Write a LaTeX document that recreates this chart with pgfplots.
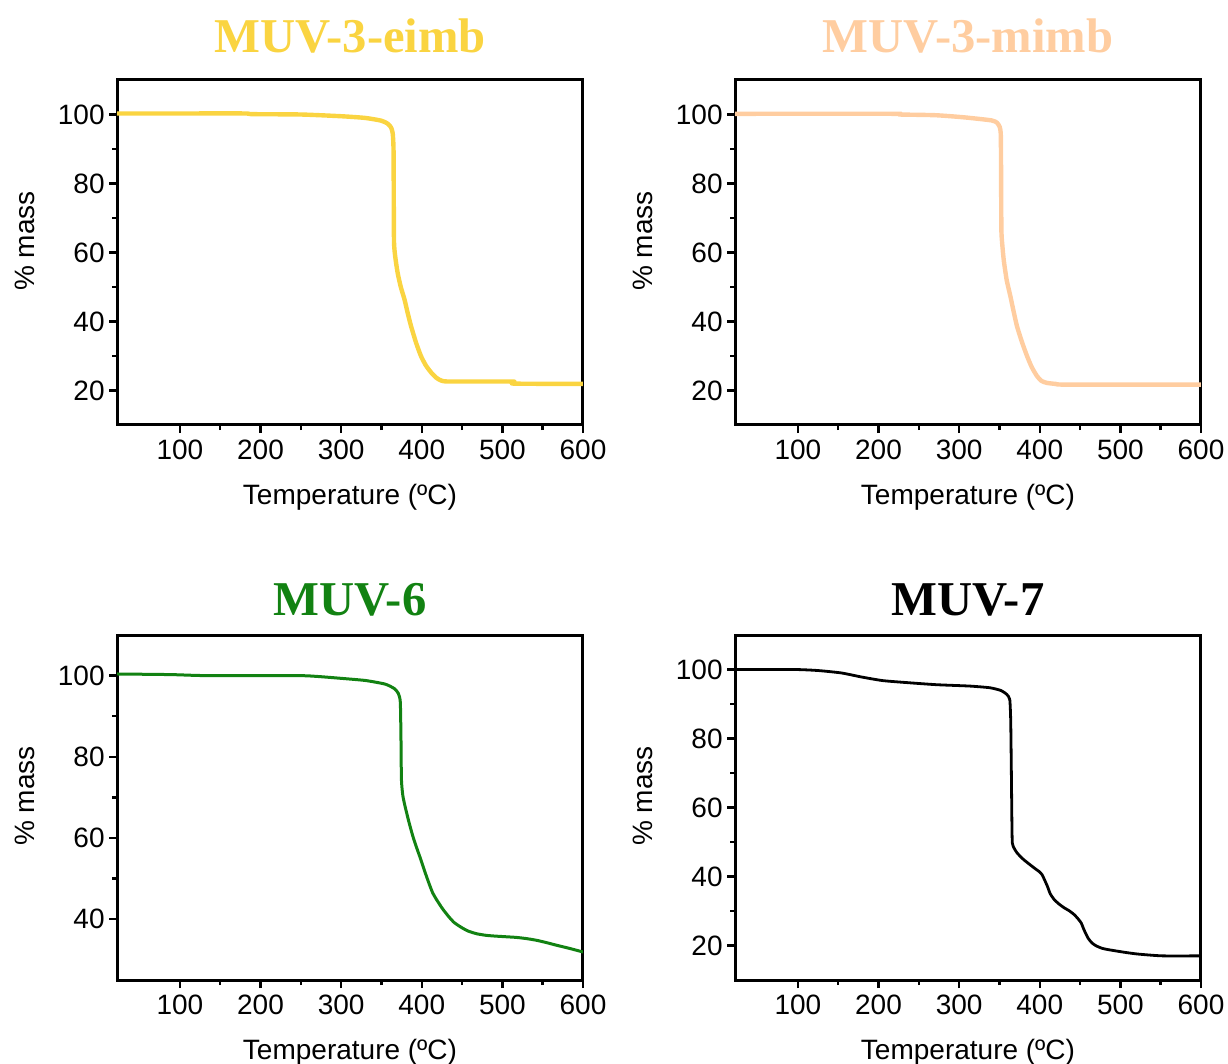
\documentclass[border=0pt]{standalone}
\usepackage{pgfplots}
\pgfplotsset{compat=1.18}
\usepackage{fontspec}
\setmainfont{Liberation Sans}
\newfontfamily\titlefont{Liberation Serif}
\definecolor{cgold}{RGB}{250,212,65}
\definecolor{cpeach}{RGB}{255,205,160}
\definecolor{cgreen}{RGB}{18,130,18}
\pgfplotsset{tga/.style={
  scale only axis, width=233pt, height=172.5pt,
  xmin=22, xmax=600, xtick={100,200,...,600}, minor tick num=1,
  tick align=outside, xtick pos=left, ytick pos=left,
  major tick length=4pt, minor tick length=2.5pt,
  every tick/.style={black, line width=1.2pt},
  axis line style={line width=1.5pt},
  tick label style={font=\fontsize{14}{16}\selectfont, inner sep=2pt},
  xticklabel style={yshift=-1.5pt},
  label style={font=\fontsize{14}{16}\selectfont},
  /pgf/number format/assume math mode=true,
  xlabel={Temperature (ºC)}, ylabel={\% mass},
  xlabel style={at={(axis description cs:0.5,-0.21)}, anchor=center},
  ylabel style={at={(axis description cs:-0.197,0.533)}, anchor=center},
  title style={font=\titlefont\bfseries\fontsize{24.3}{27}\selectfont, at={(axis description cs:0.5,1)}, anchor=base},
  every axis plot/.append style={smooth, tension=0.35, line join=round, line cap=round},
}}
\begin{document}
\begin{tikzpicture}
\begin{axis}[tga, at={(58.5pt,-212.5pt)}, anchor=south west,
  ymin=10, ymax=110, ytick={20,40,...,100},
  title={\color{cgold}MUV-3-eimb}, title style={yshift=7.5pt}]
\addplot[cgold, line width=2.2pt] coordinates {
(22,100.3) (100,100.3) (180,100.3) (190,100.1) (250,100.0) (300,99.5) (330,99.0)
(350,98.2) (358,97.3) (362,96.2) (364,94.5) (365,90) (365.3,75) (365.6,63) (367,59)
(370,54.2) (374,50) (378.6,46.4) (382.5,42.5) (386.8,38.6) (393,33.8) (399,30) (405,27.3)
(411.7,25.2) (418,23.7) (424,22.9) (434,22.6) (513,22.6) (514,22.0) (600,21.9)};
\end{axis}
\begin{axis}[tga, at={(367.5pt,-212.5pt)}, anchor=south west,
  ymin=10, ymax=110, ytick={20,40,...,100},
  title={\color{cpeach}MUV-3-mimb}, title style={yshift=7.5pt}]
\addplot[cpeach, line width=2.2pt] coordinates {
(22,100.2) (220,100.2) (225,100.0) (270,99.8) (305,99.2) (340,98.3) (347,97.6)
(350.5,96.3) (351.7,94) (352,85) (352.2,75) (352.5,65.7) (354,61) (355.5,57.5) (359,52) (363.6,47.3)
(367.5,43) (371.8,38.6) (378,34) (384.2,30) (390,26.8) (396.5,24.2) (402,22.8) (408.8,22.2)
(420,21.9) (433.5,21.7) (600,21.7)};
\end{axis}
\begin{axis}[tga, at={(58.5pt,-490pt)}, anchor=south west,
  ymin=25, ymax=110, ytick={40,60,80,100},
  title={\color{cgreen}MUV-6}, title style={yshift=4pt}]
\addplot[cgreen, line width=1.5pt] coordinates {
(22,100.4) (89,100.25) (133,100) (246,100) (270,99.8) (295.6,99.4) (330,98.8)
(354.7,97.9) (366,96.8) (371,95.6) (373.4,93.5) (374.2,85) (374.8,74.4) (376.5,70.5) (379.3,67.8)
(384,64) (389,60.4) (394,57.4) (399,54.6) (404,51.6) (409,48.8) (413.5,46.5) (418.7,44.7) (426,42.5) (433.5,40.6) (440,39.2) (448,38.1) (457,37.1) (468,36.4)
(480,36.0) (492.6,35.8) (517,35.5) (530,35.2) (542,34.8) (555,34.2) (566.5,33.6) (583,32.8) (600,31.9)};
\end{axis}
\begin{axis}[tga, at={(367.5pt,-490pt)}, anchor=south west,
  ymin=10, ymax=110, ytick={20,40,...,100},
  title={\color{black}MUV-7}, title style={yshift=4pt}]
\addplot[black, line width=1.4pt] coordinates {
(22,100) (95.8,100) (125,99.7) (154,99) (179.5,97.8) (204.6,96.8) (229.7,96.3)
(271.5,95.6) (313,95.2) (338.5,94.7) (352,93.9) (359,92.8) (362.8,91.3) (364,85) (364.8,70) (365.5,55)
(366,49.7) (368,48.3) (372,46.8) (380,44.9) (393,42.5) (400,41.3) (403,40.5) (406,39) (409.6,37.1) (413,35) (418,33.3) (424,32)
(430.5,30.9) (437,30) (443,28.9) (448,27.6) (451.5,26.5) (455,24.5) (460,22.1) (465,20.7) (470,19.9) (477,19.2) (485,18.8) (506,18)
(522.6,17.5) (552,17.0) (600,17.0)};
\end{axis}
\pgfresetboundingbox
\useasboundingbox (0,0) rectangle (614pt,-532pt);
\end{tikzpicture}
\end{document}
